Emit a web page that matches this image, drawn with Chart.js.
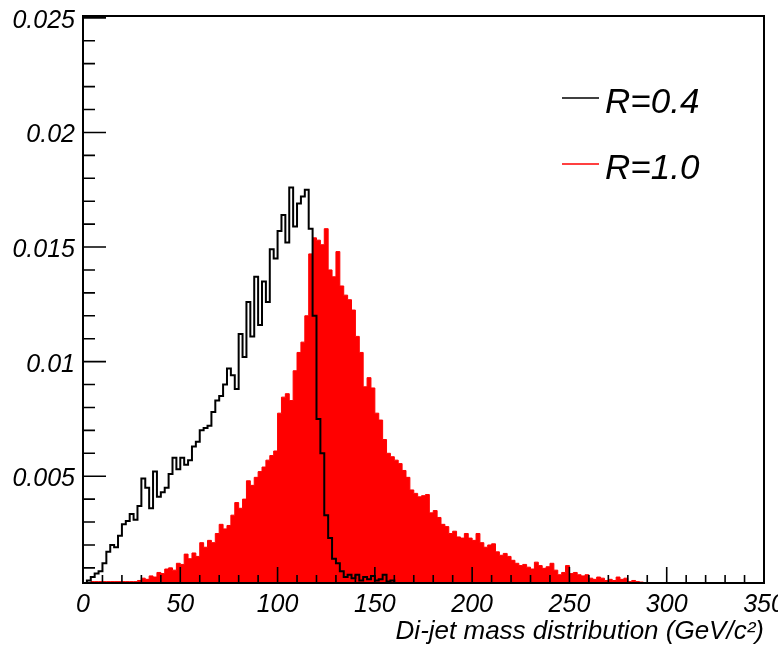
<!DOCTYPE html>
<html>
<head>
<meta charset="utf-8">
<script src="https://cdn.jsdelivr.net/npm/chart.js@4.4.1/dist/chart.umd.min.js"></script>
<style>
  body { margin: 0; background: #fff; }
  #wrap { width: 778px; height: 648px; }
</style>
</head>
<body>
<div id="wrap"><canvas id="massChart" width="778" height="648"></canvas></div>
<script>
// histogram bins are 2 GeV wide
const binWidth = 2;

// R=0.4, first bin starts at 0 GeV
const r04Start = 0;
const r04Values = [
  0.0001, 0.00025, 0.00045, 0.0006, 0.00075, 0.00085, 0.0012, 0.0017, 0.002, 0.0019,
  0.0024, 0.0029, 0.00305, 0.00335, 0.0031, 0.0037, 0.0049, 0.0045, 0.0036, 0.0052,
  0.0041, 0.0043, 0.0045, 0.0051, 0.0058, 0.0053, 0.0058, 0.0055, 0.0057, 0.0063,
  0.0065, 0.007, 0.0071, 0.0072, 0.0078, 0.0083, 0.0085, 0.009, 0.0097, 0.0094,
  0.0088, 0.0112, 0.0102, 0.0126, 0.0111, 0.0137, 0.0116, 0.0135, 0.0126, 0.0149,
  0.0145, 0.0157, 0.0164, 0.0152, 0.0176, 0.0159, 0.0169, 0.0172, 0.0175, 0.0158,
  0.012, 0.0075, 0.006, 0.0033, 0.0023, 0.0014, 0.0012, 0.00085, 0.0006, 0.0007,
  0.00055, 0.0007, 0.00045, 0.0006, 0.0005, 0.00065, 0.00045, 0.0005, 0.0007, 0.0004,
  0.00045, 0.0002
];

// R=1.0, first bin starts at 4 GeV
const r10Start = 4;
const r10Values = [
  0.0004, 0.0004, 0.0004, 0.0004, 0.0004, 0.0004, 0.0004, 0.0004, 0.0004, 0.0004,
  0.0004, 0.0004, 0.0004,
  0.00045, 0.00055, 0.0005, 0.00065, 0.0006, 0.0008, 0.00075, 0.00095, 0.001, 0.0009,
  0.0012, 0.00115, 0.0016, 0.0014, 0.00165, 0.0015, 0.0021, 0.0019, 0.0022, 0.0021,
  0.0025, 0.0029, 0.0027, 0.00285, 0.0033, 0.00385, 0.0036, 0.004, 0.0048, 0.0046,
  0.00495, 0.0052, 0.0054, 0.0057, 0.0059, 0.0061, 0.00775, 0.00845, 0.0086, 0.0083,
  0.0096, 0.0104, 0.01085, 0.012, 0.0147, 0.0154, 0.0153, 0.0151, 0.0158, 0.014,
  0.0137, 0.0148, 0.0133, 0.0129, 0.0127, 0.01225, 0.0111, 0.0104, 0.0089, 0.0093,
  0.00885, 0.00775, 0.00745, 0.0066, 0.006, 0.00585, 0.0057, 0.00555, 0.00525, 0.00495,
  0.0044, 0.00425, 0.0041, 0.00415, 0.0042, 0.0034, 0.0035, 0.0032, 0.0029, 0.0028,
  0.0025, 0.0026, 0.00235, 0.0023, 0.0025, 0.0023, 0.0022, 0.0025, 0.0021, 0.0019,
  0.002, 0.00205, 0.0017, 0.00155, 0.00163, 0.0015, 0.00133, 0.0012, 0.0011, 0.00115,
  0.00103, 0.00095, 0.00125, 0.0011, 0.00098, 0.00105, 0.0012, 0.0009, 0.0007, 0.0008,
  0.0011, 0.00075, 0.0008, 0.0007, 0.00065, 0.0007, 0.00055, 0.0005, 0.0006, 0.00055,
  0.00045, 0.0005, 0.00045, 0.0006, 0.0005, 0.00055, 0.0004, 0.00045, 0.0004, 0.00038
];

const seriesLabels = ["R=0.4", "R=1.0"];
const xTicks = [0, 50, 100, 150, 200, 250, 300, 350];
const xTickLabels = ["0", "50", "100", "150", "200", "250", "300", "350"];
const xMinorStep = 10;
const yTicks = [0.005, 0.01, 0.015, 0.02, 0.025];
const yTickLabels = ["0.005", "0.01", "0.015", "0.02", "0.025"];
const yMinorStep = 0.001;
const xTitle = "Di-jet mass distribution (GeV/c\u00B2)";

// turn bin values into step points (left edges, closed at both ends)
function toSteps(start, values) {
  const pts = [{ x: start, y: 0 }];
  values.forEach((v, i) => pts.push({ x: start + i * binWidth, y: v }));
  pts.push({ x: start + values.length * binWidth, y: 0 });
  return pts;
}

const labelFont = { family: "'Liberation Sans', Arial, sans-serif", size: 25, style: "italic" };

// no extra room for overflowing labels, the frame is fixed
function noPad(s) {
  s.paddingTop = 0;
  s.paddingBottom = 0;
  s.paddingLeft = 0;
  s.paddingRight = 0;
}

// ROOT-like frame, inward ticks and legend
const rootFrame = {
  id: "rootFrame",
  afterDraw(chart) {
    const { ctx, chartArea: a, scales: { x, y } } = chart;
    ctx.save();
    ctx.strokeStyle = "#000";

    // x ticks
    ctx.lineWidth = 1.6;
    ctx.beginPath();
    for (let v = x.min; v <= x.max + 0.001; v += xMinorStep) {
      const px = x.getPixelForValue(v);
      const len = xTicks.includes(Math.round(v)) ? 16 : 8;
      ctx.moveTo(px, a.bottom);
      ctx.lineTo(px, a.bottom - len);
    }
    // y ticks
    for (let i = 1; i * yMinorStep <= y.max + 1e-9; i++) {
      const v = i * yMinorStep;
      if (v < y.min) continue;
      const py = y.getPixelForValue(v);
      const len = i % 5 === 0 ? 23 : 12;
      ctx.moveTo(a.left, py);
      ctx.lineTo(a.left + len, py);
    }
    ctx.stroke();

    // frame
    ctx.lineWidth = 2;
    ctx.strokeRect(a.left, a.top, a.right - a.left, a.bottom - a.top);

    // legend
    ctx.font = "italic 35px 'Liberation Sans', Arial, sans-serif";
    ctx.textBaseline = "alphabetic";
    ctx.fillStyle = "#000";
    const rows = [
      { y: 98, base: 113, color: "#000" },
      { y: 164, base: 179, color: "#ff0000" }
    ];
    rows.forEach((r, i) => {
      ctx.strokeStyle = r.color;
      ctx.lineWidth = 1.5;
      ctx.beginPath();
      ctx.moveTo(562, r.y);
      ctx.lineTo(599, r.y);
      ctx.stroke();
      ctx.fillText(chart.data.datasets[i].label, 605, r.base);
    });
    ctx.restore();
  }
};

new Chart(document.getElementById("massChart"), {
  type: "line",
  data: {
    datasets: [
      {
        label: seriesLabels[0],
        data: toSteps(r04Start, r04Values),
        stepped: "after",
        borderColor: "#000",
        borderWidth: 2,
        pointRadius: 0,
        fill: false
      },
      {
        label: seriesLabels[1],
        data: toSteps(r10Start, r10Values),
        stepped: "after",
        borderColor: "#ff0000",
        backgroundColor: "#ff0000",
        borderWidth: 1,
        pointRadius: 0,
        fill: "start"
      }
    ]
  },
  options: {
    responsive: false,
    animation: false,
    layout: { padding: { top: 16, right: 14, left: 0, bottom: 0 } },
    plugins: { legend: { display: false }, tooltip: { enabled: false } },
    scales: {
      x: {
        type: "linear",
        min: 0,
        max: 350,
        grid: { display: false, drawTicks: false },
        border: { display: false },
        afterFit(s) { s.height = 65; noPad(s); },
        afterBuildTicks(s) { s.ticks = xTicks.map(v => ({ value: v })); },
        ticks: {
          padding: 7,
          maxRotation: 0,
          autoSkip: false,
          color: "#000",
          font: labelFont,
          callback: (v) => xTickLabels[xTicks.indexOf(v)]
        },
        title: {
          display: true,
          text: xTitle,
          align: "end",
          color: "#000",
          font: { family: "'Liberation Sans', Arial, sans-serif", size: 26, style: "italic" },
          padding: { top: 0, bottom: 1 }
        }
      },
      y: {
        type: "linear",
        min: 0.00034,
        max: 0.02508,
        grid: { display: false, drawTicks: false },
        border: { display: false },
        afterFit(s) { s.width = 83; noPad(s); },
        afterBuildTicks(s) { s.ticks = yTicks.map(v => ({ value: v })); },
        ticks: {
          padding: 8,
          labelOffset: 3,
          autoSkip: false,
          color: "#000",
          font: labelFont,
          callback: (v) => yTickLabels[yTicks.indexOf(v)]
        }
      }
    }
  },
  plugins: [rootFrame]
});
</script>
</body>
</html>
